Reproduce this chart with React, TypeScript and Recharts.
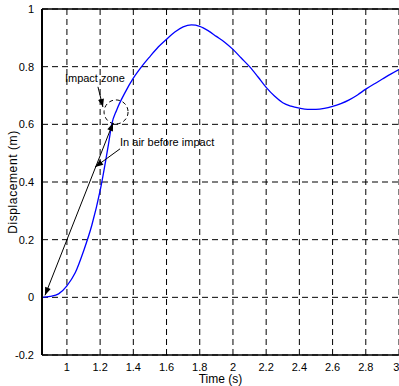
import {
  LineChart,
  Line,
  XAxis,
  YAxis,
  CartesianGrid,
  ReferenceLine,
  ReferenceDot,
} from "recharts";

const time = [
  0.85, 0.9, 0.95, 1.0, 1.05, 1.1, 1.15, 1.2, 1.25, 1.27, 1.3, 1.35, 1.4, 1.45, 1.5,
  1.55, 1.6, 1.65, 1.7, 1.75, 1.8, 1.85, 1.9, 1.95, 2.0, 2.05, 2.1, 2.15, 2.2, 2.25,
  2.3, 2.35, 2.4, 2.45, 2.5, 2.55, 2.6, 2.65, 2.7, 2.75, 2.8, 2.85, 2.9, 2.95, 3.0,
];
const displacement = [
  0, 0.003, 0.012, 0.04, 0.085, 0.16, 0.25, 0.37, 0.53, 0.6, 0.65, 0.71, 0.76, 0.8, 0.835,
  0.868, 0.895, 0.92, 0.938, 0.945, 0.94, 0.925, 0.905, 0.885, 0.86, 0.83, 0.8, 0.765, 0.728, 0.698,
  0.675, 0.663, 0.656, 0.652, 0.652, 0.655, 0.662, 0.672, 0.685, 0.702, 0.722, 0.74, 0.757, 0.774, 0.79,
];
const xTicks = [1, 1.2, 1.4, 1.6, 1.8, 2, 2.2, 2.4, 2.6, 2.8, 3];
const yTicks = [-0.2, 0, 0.2, 0.4, 0.6, 0.8, 1];

const data = time.map((t, i) => ({ t, d: displacement[i] }));

const font = "'Liberation Sans', Arial, sans-serif";

const head = (xa: number, ya: number, xb: number, yb: number) => {
  // triangle pointing at (xb, yb), coming from (xa, ya)
  const dx = xb - xa;
  const dy = yb - ya;
  const len = Math.sqrt(dx * dx + dy * dy) || 1;
  const ux = dx / len;
  const uy = dy / len;
  const L = 8;
  const W = 3;
  const bx = xb - ux * L;
  const by = yb - uy * L;
  return `${xb},${yb} ${bx - uy * W},${by + ux * W} ${bx + uy * W},${by - ux * W}`;
};

const arrow = (both: boolean) => (p: any) => (
  <g>
    <line x1={p.x1} y1={p.y1} x2={p.x2} y2={p.y2} stroke="#000" strokeWidth={1} />
    <polygon points={head(p.x1, p.y1, p.x2, p.y2)} fill="#000" />
    {both && <polygon points={head(p.x2, p.y2, p.x1, p.y1)} fill="#000" />}
  </g>
);

const note = (value: string) => (p: any) => (
  <text x={p.cx} y={p.cy} dy={4} fontSize={11} fontFamily={font} fill="#000">
    {value}
  </text>
);

export default function App() {
  return (
    <div style={{ position: "absolute", left: 0, top: 0, background: "#fff" }}>
      <LineChart
        width={399}
        height={386}
        data={data}
        margin={{ top: 9, right: 0, bottom: 0, left: 0 }}
      >
        <CartesianGrid stroke="#000" strokeDasharray="6 4" />
        <XAxis
          dataKey="t"
          type="number"
          domain={[0.85, 3]}
          ticks={xTicks}
          allowDataOverflow
          height={31}
          tickLine={false}
          axisLine={{ stroke: "#000", strokeWidth: 1.5 }}
          tick={{ fontSize: 11, fill: "#000", fontFamily: font }}
          label={{
            value: "Time (s)",
            position: "insideBottom",
            offset: 3,
            fontSize: 12,
            fill: "#000",
            fontFamily: font,
          }}
        />
        <YAxis
          type="number"
          domain={[-0.2, 1]}
          ticks={yTicks}
          width={42}
          tickLine={false}
          axisLine={{ stroke: "#000", strokeWidth: 2 }}
          tick={{ fontSize: 11, fill: "#000", fontFamily: font }}
          label={{
            value: "Displacement (m)",
            angle: -90,
            position: "center",
            dx: -8,
            fontSize: 12,
            letterSpacing: 0.6,
            fill: "#000",
            fontFamily: font,
          }}
        />
        <ReferenceLine y={1} stroke="#000" strokeWidth={1.5} />
        <Line
          type="monotone"
          dataKey="d"
          stroke="#0000ff"
          strokeWidth={1.3}
          dot={false}
          isAnimationActive={false}
        />
        <ReferenceLine
          segment={[
            { x: 0.868, y: 0.007 },
            { x: 1.278, y: 0.605 },
          ]}
          shape={arrow(true)}
        />
        <ReferenceLine
          segment={[
            { x: 1.187, y: 0.73 },
            { x: 1.217, y: 0.66 },
          ]}
          shape={arrow(false)}
        />
        <ReferenceLine
          segment={[
            { x: 1.32, y: 0.515 },
            { x: 1.17, y: 0.452 },
          ]}
          shape={arrow(false)}
        />
        <ReferenceDot
          x={1.296}
          y={0.643}
          r={12}
          fill="none"
          stroke="#000"
          strokeDasharray="4 3"
        />
        <ReferenceDot x={0.988} y={0.762} r={0} shape={note("Impact zone")} />
        <ReferenceDot x={1.32} y={0.539} r={0} shape={note("In air before impact")} />
      </LineChart>
    </div>
  );
}
